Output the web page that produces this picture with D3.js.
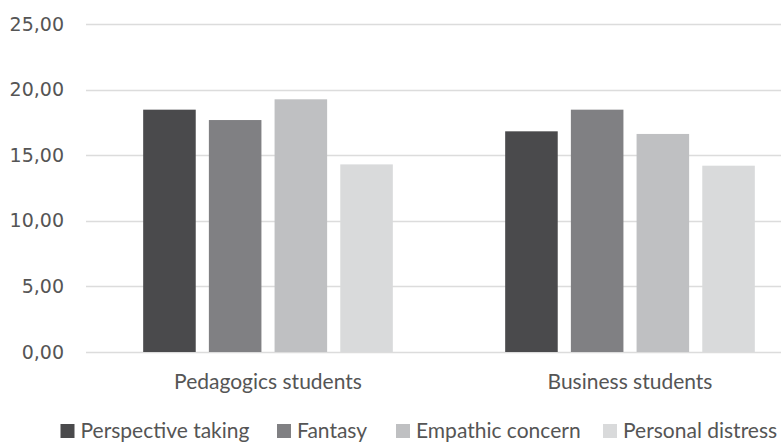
<!DOCTYPE html>
<html>
<head>
<meta charset="utf-8">
<script src="https://cdn.jsdelivr.net/npm/d3@7"></script>
<style>
  html, body { margin: 0; padding: 0; background: #fff; overflow: hidden; }
  svg { display: block; }
</style>
</head>
<body>
<svg id="chart" width="781" height="443"></svg>
<script>
// Mean scores per empathy subscale for each student group
const groups = ["Pedagogics students", "Business students"];
const seriesNames = ["Perspective taking", "Fantasy", "Empathic concern", "Personal distress"];
const perspectiveTaking = [18.47, 16.82];
const fantasy = [17.68, 18.47];
const empathicConcern = [19.26, 16.62];
const personalDistress = [14.30, 14.20];
const yTicks = [0, 5, 10, 15, 20, 25];
const seriesColors = ["#4a4a4c", "#808083", "#bfc0c2", "#d9dadb"];

const seriesValues = [perspectiveTaking, fantasy, empathicConcern, personalDistress];
const rows = groups.map((g, i) => ({
  group: g,
  values: seriesNames.map((s, k) => ({ series: s, value: seriesValues[k][i] }))
}));

const svg = d3.select("#chart");
const margin = { left: 87, top: 24, bottom: 352 };

const y = d3.scaleLinear().domain([0, 25]).range([margin.bottom, margin.top]);
const x0 = d3.scaleBand().domain(groups).range([margin.left, 811]).padding(0);
const x1 = d3.scaleBand().domain(seriesNames).range([0, x0.bandwidth()])
  .paddingInner(0.2).paddingOuter(0.855);
const color = d3.scaleOrdinal().domain(seriesNames).range(seriesColors);

// Horizontal gridlines
svg.append("g")
  .selectAll("line")
  .data(yTicks)
  .join("line")
  .attr("x1", 86)
  .attr("x2", 781)
  .attr("y1", d => Math.round(y(d)) + 0.5)
  .attr("y2", d => Math.round(y(d)) + 0.5)
  .attr("stroke", "#dcdcdc")
  .attr("stroke-width", 1.5);

// Y axis labels
const yAxis = d3.axisLeft(y)
  .tickValues(yTicks)
  .tickSize(0)
  .tickPadding(0)
  .tickFormat(d => d3.format(".2f")(d).replace(".", ","));
const yg = svg.append("g").attr("transform", "translate(64,0)").call(yAxis);
yg.select(".domain").remove();
yg.selectAll("text")
  .attr("font-family", "DejaVu Sans, sans-serif")
  .attr("font-size", 19)
  .attr("fill", "#555555");

// Bars
const gGroups = svg.append("g")
  .selectAll("g")
  .data(rows)
  .join("g")
  .attr("transform", d => `translate(${x0(d.group)},0)`);

gGroups.selectAll("rect")
  .data(d => d.values)
  .join("rect")
  .attr("x", d => x1(d.series))
  .attr("width", x1.bandwidth())
  .attr("y", d => y(d.value))
  .attr("height", d => y(0) - y(d.value))
  .attr("fill", d => color(d.series));

// Category labels
const xAxis = d3.axisBottom(x0).tickSize(0).tickPadding(0);
const xg = svg.append("g").attr("transform", "translate(0,389)").call(xAxis);
xg.select(".domain").remove();
xg.selectAll("text")
  .attr("dy", 0)
  .attr("font-family", "Lato, sans-serif")
  .attr("font-size", 21)
  .attr("fill", "#555555");

// Legend
const legendX = [60.5, 277, 396, 603];
const legend = svg.append("g")
  .selectAll("g")
  .data(seriesNames)
  .join("g")
  .attr("transform", (d, i) => `translate(${legendX[i]},424)`);
legend.append("rect")
  .attr("width", 14)
  .attr("height", 14)
  .attr("fill", d => color(d));
legend.append("text")
  .attr("x", 20)
  .attr("y", 14)
  .attr("font-family", "Lato, sans-serif")
  .attr("font-size", 21)
  .attr("fill", "#555555")
  .text(d => d);
</script>
</body>
</html>
